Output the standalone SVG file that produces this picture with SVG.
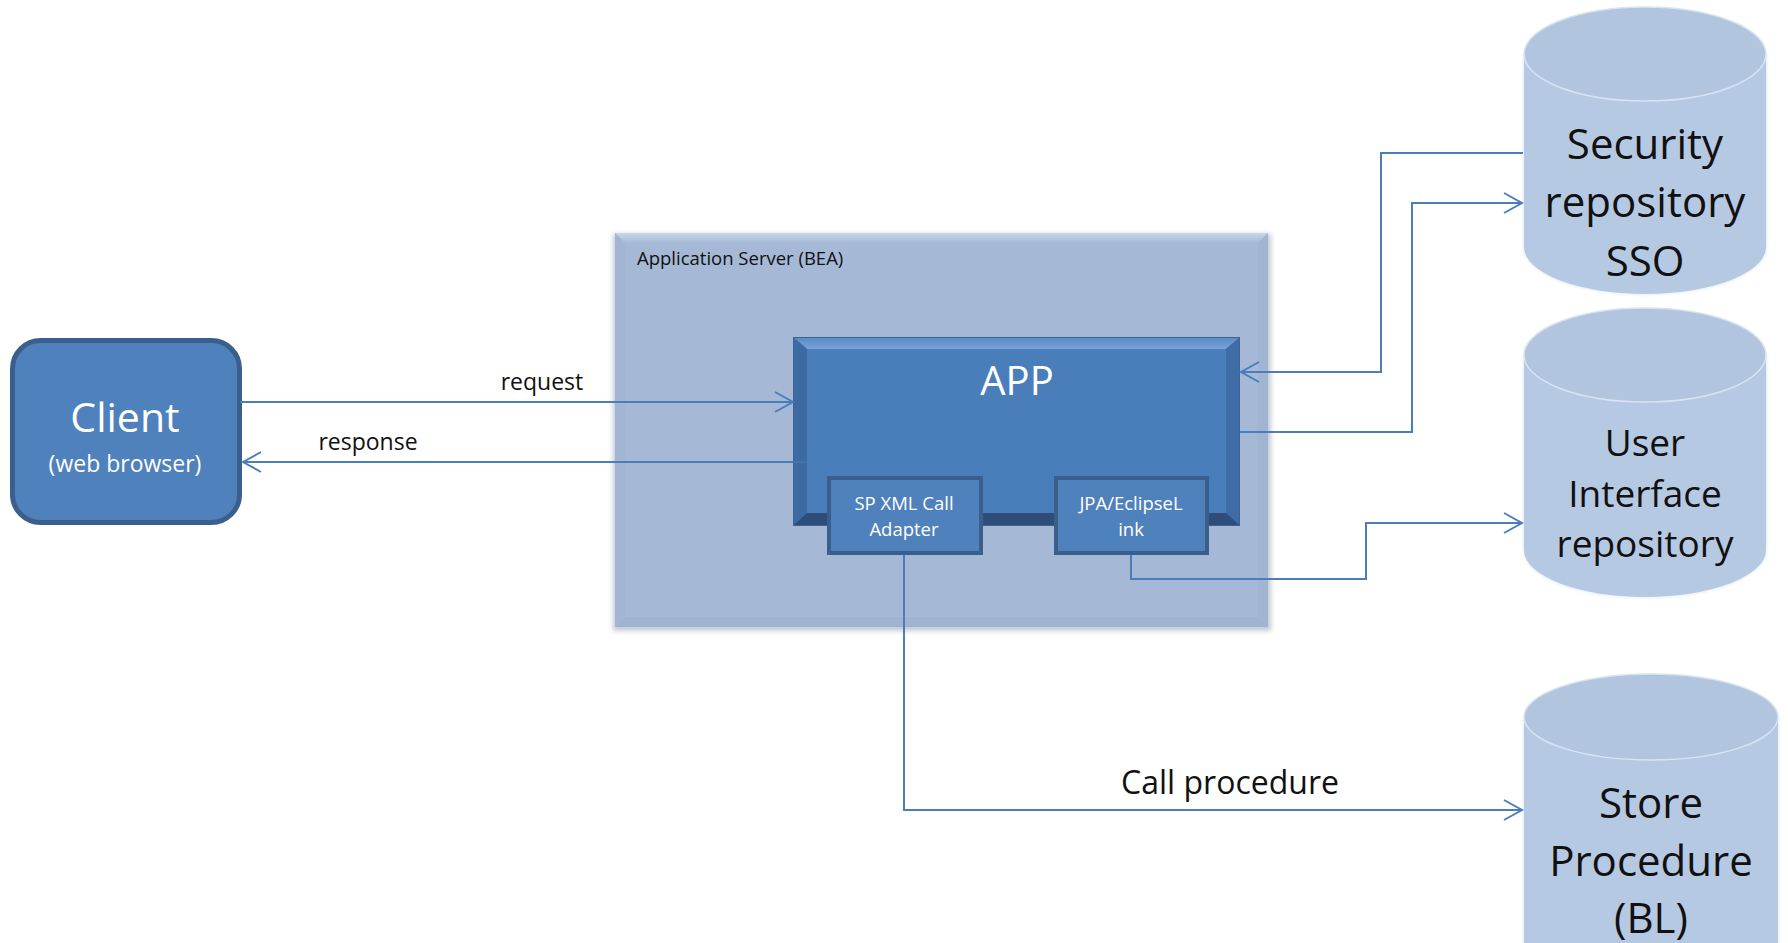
<svg xmlns="http://www.w3.org/2000/svg" width="1788" height="943" viewBox="0 0 1788 943">
<style>
.t{font-family:"Open Sans","Noto Sans","Liberation Sans",sans-serif;}
.w{fill:#ffffff;}
.k{fill:#111111;}
.c{stroke:#4a7ebb;stroke-width:2;fill:none;}
.cyl{fill:#b6c9e3;}
.cyltop{fill:#b2c5df;stroke:#d8e4f2;stroke-width:1.5;}
</style>
<defs>
<marker id="arr" markerUnits="userSpaceOnUse" markerWidth="24" markerHeight="26" refX="20" refY="12" orient="auto">
<path d="M2,2 L20,12 L2,22" fill="none" stroke="#4a7ebb" stroke-width="2"/>
</marker>
<filter id="soft" x="-5%" y="-5%" width="110%" height="110%">
<feGaussianBlur stdDeviation="2.5"/>
</filter>
<filter id="glow" x="-5%" y="-5%" width="110%" height="110%">
<feGaussianBlur stdDeviation="1.5"/>
</filter>
<linearGradient id="topbev" x1="0" y1="0" x2="0" y2="1">
<stop offset="0" stop-color="#5e8cc6"/>
<stop offset="1" stop-color="#77a2d8"/>
</linearGradient>
<linearGradient id="srvtop" x1="0" y1="0" x2="0" y2="1">
<stop offset="0" stop-color="#c9d7ea"/>
<stop offset="1" stop-color="#a5b9d7"/>
</linearGradient>
</defs>

<g id="app-server">
<rect x="613" y="234" width="658" height="397" fill="#9aa6b6" opacity="0.6" filter="url(#soft)"/>
<rect x="615" y="233" width="653" height="394" fill="#a5b9d7"/>
<polygon points="615,233 1268,233 1258,243 625,243" fill="url(#srvtop)"/>
<polygon points="615,233 625,243 625,617 615,627" fill="#a2b6d4"/>
<polygon points="1268,233 1258,243 1258,617 1268,627" fill="#a1b4d2"/>
<polygon points="615,627 625,617 1258,617 1268,627" fill="#a0b3d1"/>
<text class="t k" x="637" y="265" font-size="18.5">Application Server (BEA)</text>
</g>

<g id="app">
<rect x="793" y="337" width="447" height="189" fill="#3b6398"/>
<polygon points="794,338 1239,338 1226,349 807,349" fill="url(#topbev)"/>
<polygon points="794,338 807,349 807,513 794,525" fill="#3e6aa3"/>
<polygon points="1239,338 1226,349 1226,513 1239,525" fill="#3f6ca6"/>
<polygon points="794,525 807,513 1226,513 1239,525" fill="#2e4e79"/>
<rect x="807" y="349" width="419" height="164" fill="#4a7ebb"/>
<text class="t w" x="1017" y="395" font-size="40" text-anchor="middle">APP</text>
</g>

<g id="client">
<rect x="12.5" y="340.5" width="227" height="182" rx="28" ry="28" fill="#4f81bd" stroke="#3a5f8c" stroke-width="5"/>
<text class="t w" x="125" y="432" font-size="41" text-anchor="middle">Client</text>
<text class="t w" x="125" y="472" font-size="23" text-anchor="middle">(web browser)</text>
</g>

<g id="sp-xml">
<rect x="829" y="478" width="152" height="75" fill="#4f81bd" stroke="#3a5f8c" stroke-width="4"/>
<text class="t w" x="904" y="510" font-size="18.5" text-anchor="middle">SP XML Call</text>
<text class="t w" x="904" y="536" font-size="18.5" text-anchor="middle">Adapter</text>
</g>

<g id="jpa">
<rect x="1056" y="478" width="151" height="75" fill="#4f81bd" stroke="#3a5f8c" stroke-width="4"/>
<text class="t w" x="1131" y="510" font-size="18.5" text-anchor="middle">JPA/EclipseL</text>
<text class="t w" x="1131" y="536" font-size="18.5" text-anchor="middle">ink</text>
</g>

<g id="security-repo">
<path d="M1523,54 V247 A122,48 0 0 0 1767,247 V54 Z" fill="#e6edf6" filter="url(#glow)"/>
<path d="M1524,54 V247 A121,47 0 0 0 1766,247 V54 Z" class="cyl"/>
<ellipse cx="1645" cy="54" rx="121" ry="47" class="cyltop"/>
<text class="t k" x="1645" y="159" font-size="42" text-anchor="middle">Security</text>
<text class="t k" x="1645" y="217" font-size="42" text-anchor="middle">repository</text>
<text class="t k" x="1645" y="276" font-size="42" text-anchor="middle">SSO</text>
</g>

<g id="ui-repo">
<path d="M1523,355 V550 A122,48 0 0 0 1767,550 V355 Z" fill="#e6edf6" filter="url(#glow)"/>
<path d="M1524,355 V550 A121,47 0 0 0 1766,550 V355 Z" class="cyl"/>
<ellipse cx="1645" cy="355" rx="121" ry="47" class="cyltop"/>
<text class="t k" x="1645" y="456" font-size="37" text-anchor="middle">User</text>
<text class="t k" x="1645" y="507" font-size="37" text-anchor="middle">Interface</text>
<text class="t k" x="1645" y="557" font-size="37" text-anchor="middle">repository</text>
</g>

<g id="store-procedure">
<path d="M1523,717 V960 H1779 V717 Z" fill="#e6edf6" filter="url(#glow)"/>
<path d="M1524,717 V960 H1778 V717 Z" class="cyl"/>
<ellipse cx="1651" cy="717" rx="127" ry="43" class="cyltop"/>
<text class="t k" x="1651" y="818" font-size="42" text-anchor="middle">Store</text>
<text class="t k" x="1651" y="876" font-size="42" text-anchor="middle">Procedure</text>
<text class="t k" x="1651" y="933" font-size="42" text-anchor="middle">(BL)</text>
</g>

<g id="connectors">
<path class="c" d="M240,402 H793" marker-end="url(#arr)"/>
<path class="c" d="M860,462 H793" opacity="0.45"/>
<path class="c" d="M793,462 H243" marker-end="url(#arr)"/>
<path class="c" d="M1523,153 H1381 V372 H1241" marker-end="url(#arr)"/>
<path class="c" d="M1240,432 H1412 V203 H1522" marker-end="url(#arr)"/>
<path class="c" d="M1131,555 V579 H1366 V523 H1522" marker-end="url(#arr)"/>
<path class="c" d="M904,555 V810 H1522" marker-end="url(#arr)"/>
<text class="t k" x="542" y="390" font-size="23" text-anchor="middle">request</text>
<text class="t k" x="368" y="450" font-size="23" text-anchor="middle">response</text>
<text class="t k" x="1230" y="794" font-size="32" text-anchor="middle">Call procedure</text>
</g>
</svg>
